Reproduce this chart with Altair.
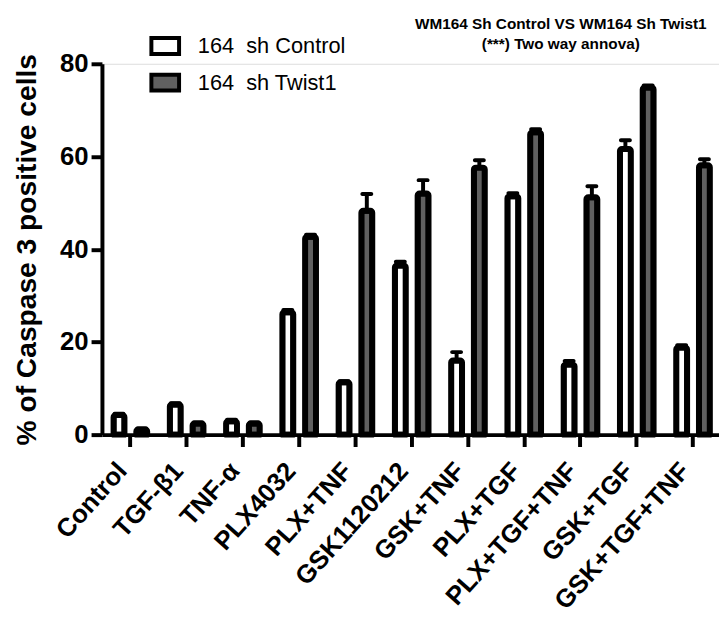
import altair as alt
import pandas as pd

categories = ["Control", "TGF-β1", "TNF-α", "PLX4032", "PLX+TNF", "GSK1120212",
              "GSK+TNF", "PLX+TGF", "PLX+TGF+TNF", "GSK+TGF", "GSK+TGF+TNF"]
series = ["164\u00a0 sh Control", "164\u00a0 sh Twist1"]
control_mean = [4.2, 6.5, 2.9, 26.4, 11.3, 36.5, 16.0, 51.4, 15.1, 61.6, 18.8]
control_err = [0.3, 0.3, 0.3, 0.5, 0.2, 0.8, 1.8, 0.7, 0.8, 1.9, 0.5]
twist_mean = [1.1, 2.4, 2.4, 42.7, 48.3, 52.0, 57.6, 65.2, 51.2, 74.9, 58.1]
twist_err = [0.2, 0.2, 0.2, 0.4, 3.6, 2.9, 1.6, 0.7, 2.4, 0.4, 1.3]

rows = []
for i, c in enumerate(categories):
    rows.append({"cat": c, "series": series[0], "mean": control_mean[i], "err": control_err[i]})
    rows.append({"cat": c, "series": series[1], "mean": twist_mean[i], "err": twist_err[i]})
df = pd.DataFrame(rows)
df["top"] = df["mean"] + df["err"]

FONT = "Liberation Sans"
YTITLE = "% of Caspase 3 positive cells"

xenc = alt.X(
    "cat:N", sort=categories,
    scale=alt.Scale(paddingInner=0.19, paddingOuter=0.0785, align=0.64),
    axis=alt.Axis(title=None, labelAngle=-48, labelFontSize=26, labelFont=FONT,
                  labelFontWeight="bold", labelColor="black", domainColor="black",
                  domainWidth=4, tickColor="black", tickWidth=4, tickSize=12,
                  labelPadding=20, labelOffset=-8, labelLimit=500, zindex=1),
)
xoff = alt.XOffset("series:N", sort=series,
                   scale=alt.Scale(paddingInner=0.52, paddingOuter=0.262))

yaxis = alt.Axis(values=[0, 20, 40, 60, 80], grid=False, labelFontSize=26, labelFont=FONT,
                 labelFontWeight="bold", labelColor="black", labelPadding=3,
                 domainColor="black", domainWidth=4, tickColor="black", tickWidth=4,
                 tickSize=11, titleFont=FONT, titleFontSize=28.5, titleFontWeight="bold",
                 titleColor="black", titlePadding=18, zindex=1)
yscale = alt.Scale(domain=[0, 80], nice=False)

bars = alt.Chart(df).mark_bar(
    stroke="black", strokeWidth=6, strokeJoin="round",
    cornerRadiusTopLeft=2, cornerRadiusTopRight=2,
).encode(
    x=xenc, xOffset=xoff,
    y=alt.Y("mean:Q", scale=yscale, axis=yaxis, title=YTITLE),
    fill=alt.Fill(
        "series:N", sort=series,
        scale=alt.Scale(domain=series, range=["white", "#606060"]),
        legend=alt.Legend(
            title=None, orient="none", legendX=53, legendY=-29,
            symbolType="M-1.75,-1L1.75,-1L1.75,1L-1.75,1Z", symbolSize=256,
            symbolStrokeColor="black", symbolStrokeWidth=4, symbolOpacity=1,
            labelFontSize=22, labelFont=FONT, labelColor="black",
            labelOffset=22, rowPadding=5, padding=0,
        ),
    ),
)

rules = alt.Chart(df).mark_rule(strokeWidth=4, color="black").encode(
    x=xenc, xOffset=xoff,
    y=alt.Y("mean:Q", scale=yscale, title=YTITLE),
    y2="top:Q",
)

caps = alt.Chart(df).mark_tick(size=13, thickness=4, color="black", cornerRadius=2, opacity=1).encode(
    x=xenc, xOffset=xoff,
    y=alt.Y("top:Q", scale=yscale, title=YTITLE),
)

chart = alt.layer(bars, rules, caps).properties(
    width=624, height=375,
    title=alt.Title(
        text=["WM164 Sh Control VS WM164 Sh Twist1", "(***) Two way annova)"],
        font=FONT, fontSize=15.5, fontWeight="bold", color="black",
        anchor="middle", frame="group", dx=152, dy=25, offset=7, lineHeight=21,
    ),
    autosize=alt.AutoSizeParams(type="none"),
    padding={"left": 95, "top": 53, "right": 0, "bottom": 181},
).configure_view(stroke=None).configure(background="white")

chart.save("out.html", embed_options={"renderer": "svg", "actions": False})
